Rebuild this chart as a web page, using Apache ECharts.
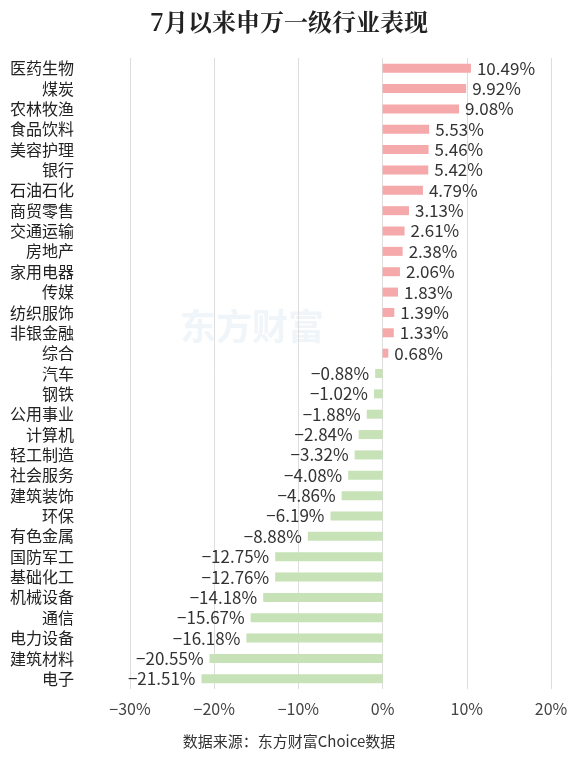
<!DOCTYPE html>
<html><head><meta charset="utf-8">
<script src="https://cdn.jsdelivr.net/npm/echarts@6/dist/echarts.min.js"></script>
<style>html,body{margin:0;padding:0;background:#fff}#c{width:578px;height:760px}</style>
</head><body><div id="c"></div>
<script>
const categories=["医药生物","煤炭","农林牧渔","食品饮料","美容护理","银行","石油石化","商贸零售","交通运输","房地产","家用电器","传媒","纺织服饰","非银金融","综合","汽车","钢铁","公用事业","计算机","轻工制造","社会服务","建筑装饰","环保","有色金属","国防军工","基础化工","机械设备","通信","电力设备","建筑材料","电子"];
const values=[10.49,9.92,9.08,5.53,5.46,5.42,4.79,3.13,2.61,2.38,2.06,1.83,1.39,1.33,0.68,-0.88,-1.02,-1.88,-2.84,-3.32,-4.08,-4.86,-6.19,-8.88,-12.75,-12.76,-14.18,-15.67,-16.18,-20.55,-21.51];
const font='"Noto Sans CJK SC", sans-serif';
const chart=echarts.init(document.getElementById('c'));
chart.setOption({
  animation:false,
  title:{text:'7月以来申万一级行业表现',left:'center',top:5,textStyle:{fontSize:24,fontWeight:'bold',color:'#222',fontFamily:'"Noto Serif CJK SC","Noto Sans CJK SC",serif'}},
  graphic:[
    {type:'text',left:'center',top:734,style:{text:'数据来源：东方财富Choice数据',fontSize:15,fill:'#333',fontFamily:font}},
    {type:'text',left:180,top:308,z:-1,style:{text:'东方财富',fontSize:36,fontWeight:'bold',fill:'rgba(170,200,220,0.18)',fontFamily:font}}
  ],
  grid:{left:130,right:27,top:58,bottom:71},
  xAxis:{type:'value',min:-30,max:20,interval:10,
    axisLabel:{formatter:v=>(v<0?'−':'')+Math.abs(v)+'%',fontSize:16,color:'#444',fontFamily:font,margin:12},
    splitLine:{lineStyle:{color:'#ddd'}},axisLine:{show:false},axisTick:{show:false}},
  yAxis:{type:'category',inverse:true,data:categories,
    axisLabel:{interval:0,fontSize:16,color:'#222',fontFamily:font,margin:56},
    axisLine:{show:false},axisTick:{show:false}},
  series:[{type:'bar',barWidth:9,
    data:values.map(v=>({value:v,itemStyle:{color:v>=0?'#f6a9aa':'#c6e2b6'},
      label:{show:true,position:v>=0?'right':'left',distance:6,fontSize:17,color:'#333',fontFamily:font,
        formatter:(v<0?'−':'')+Math.abs(v).toFixed(2)+'%'}}))}]
});
</script></body></html>
